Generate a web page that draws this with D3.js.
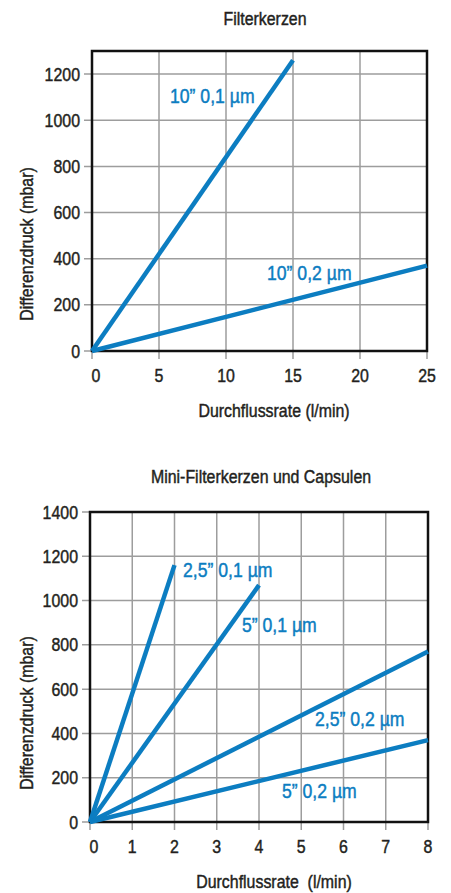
<!DOCTYPE html>
<html>
<head>
<meta charset="utf-8">
<script src="https://cdn.jsdelivr.net/npm/d3@7"></script>
<style>
  html, body { margin: 0; padding: 0; background: #fff; }
  svg { display: block; }
  text { font-family: "Liberation Sans", Arial, sans-serif; fill: #231f20; stroke: #231f20; stroke-width: 0.45px; }
</style>
</head>
<body>
<svg id="chart" width="451" height="893"></svg>
<script>
// ---- Chart 1: Filterkerzen ----
const title1 = "Filterkerzen";
const xTicks1 = [0, 5, 10, 15, 20, 25];
const yTicks1 = [0, 200, 400, 600, 800, 1000, 1200];
const series1Names = ["10\u201D 0,1 \u00B5m", "10\u201D 0,2 \u00B5m"];
const series1_01 = [[0, 0], [15, 1260]];
const series1_02 = [[0, 0], [25, 370]];

// ---- Chart 2: Mini-Filterkerzen und Capsulen ----
const title2 = "Mini-Filterkerzen und Capsulen";
const xTicks2 = [0, 1, 2, 3, 4, 5, 6, 7, 8];
const yTicks2 = [0, 200, 400, 600, 800, 1000, 1200, 1400];
const series2Names = ["2,5\u201D 0,1 \u00B5m", "5\u201D 0,1 \u00B5m", "2,5\u201D 0,2 \u00B5m", "5\u201D 0,2 \u00B5m"];
const series2_25_01 = [[0, 0], [2, 1160]];
const series2_5_01 = [[0, 0], [4, 1070]];
const series2_25_02 = [[0, 0], [8, 770]];
const series2_5_02 = [[0, 0], [8, 370]];

const yLabel = "Differenzdruck (mbar)";
const xLabel1 = "Durchflussrate (l/min)";
const xLabel2 = "Durchflussrate\u00A0 (l/min)";

const BLUE = "#0c7dc1";
const GRID = "#9d9d9d";
const SX = 0.86; // horizontal condensing of the font

const svg = d3.select("#chart");

function ctext(parent, x, y, str, size, anchor, color, rot) {
  const g = parent.append("g")
    .attr("transform", `translate(${x},${y})` + (rot ? ` rotate(${rot})` : "") + ` scale(${SX},1)`);
  const t = g.append("text").attr("x", 0).attr("y", 0)
    .attr("text-anchor", anchor).attr("font-size", size).text(str);
  if (color) t.style("fill", color).style("stroke", color);
  return t;
}

function drawChart(cfg) {
  const g = svg.append("g");
  const x = d3.scaleLinear().domain(cfg.xDomain).range([cfg.left, cfg.right]);
  const y = d3.scaleLinear().domain(cfg.yDomain).range([cfg.bottom, cfg.top]);

  const tickLen = 8;
  g.append("g").selectAll("line").data(cfg.xTicks).join("line")
    .attr("x1", d => x(d)).attr("x2", d => x(d))
    .attr("y1", cfg.top).attr("y2", cfg.bottom + tickLen)
    .attr("stroke", GRID).attr("stroke-width", 1.5);
  g.append("g").selectAll("line").data(cfg.yTicks).join("line")
    .attr("y1", d => y(d)).attr("y2", d => y(d))
    .attr("x1", cfg.left - tickLen).attr("x2", cfg.right)
    .attr("stroke", GRID).attr("stroke-width", 1.5);

  g.append("rect")
    .attr("x", cfg.left).attr("y", cfg.top)
    .attr("width", cfg.right - cfg.left).attr("height", cfg.bottom - cfg.top)
    .attr("fill", "none").attr("stroke", "#111").attr("stroke-width", 2.5);

  const line = d3.line().x(d => x(d[0])).y(d => y(d[1]));
  cfg.series.forEach(s => {
    g.append("path").datum(s.data).attr("d", line)
      .attr("fill", "none").attr("stroke", BLUE).attr("stroke-width", 4.5);
  });

  cfg.xTicks.forEach(d => ctext(g, x(d) + (d === 0 ? 4 : 0), cfg.bottom + 31, d, 18.5, "middle"));
  cfg.yTicks.forEach(d => ctext(g, cfg.left - 12, y(d) + 6.5, d, 18.5, "end"));

  cfg.series.forEach(s => ctext(g, s.lx, s.ly, s.name, 20.5, "start", BLUE));

  ctext(g, cfg.titleX, cfg.titleY, cfg.title, 18.5, "middle");
  ctext(g, cfg.xLabelX, cfg.xLabelY, cfg.xLabel, 18.5, "middle");
  ctext(g, cfg.yLabelX, cfg.yLabelY, yLabel, 18.5, "middle", null, -90);
}

drawChart({
  title: title1, xLabel: xLabel1,
  xDomain: [0, 25], yDomain: [0, 1300],
  xTicks: xTicks1, yTicks: yTicks1,
  left: 92, right: 427, top: 51, bottom: 351,
  titleX: 265, titleY: 25,
  xLabelX: 274, xLabelY: 417,
  yLabelX: 33, yLabelY: 244,
  series: [
    { name: series1Names[0], data: series1_01, lx: 170, ly: 103 },
    { name: series1Names[1], data: series1_02, lx: 267, ly: 280 }
  ]
});

drawChart({
  title: title2, xLabel: xLabel2,
  xDomain: [0, 8], yDomain: [0, 1400],
  xTicks: xTicks2, yTicks: yTicks2,
  left: 90, right: 428, top: 512, bottom: 822,
  titleX: 261, titleY: 483,
  xLabelX: 274, xLabelY: 888,
  yLabelX: 33, yLabelY: 713,
  series: [
    { name: series2Names[0], data: series2_25_01, lx: 183, ly: 577 },
    { name: series2Names[1], data: series2_5_01, lx: 242, ly: 632 },
    { name: series2Names[2], data: series2_25_02, lx: 315, ly: 726 },
    { name: series2Names[3], data: series2_5_02, lx: 282, ly: 798 }
  ]
});
</script>
</body>
</html>
